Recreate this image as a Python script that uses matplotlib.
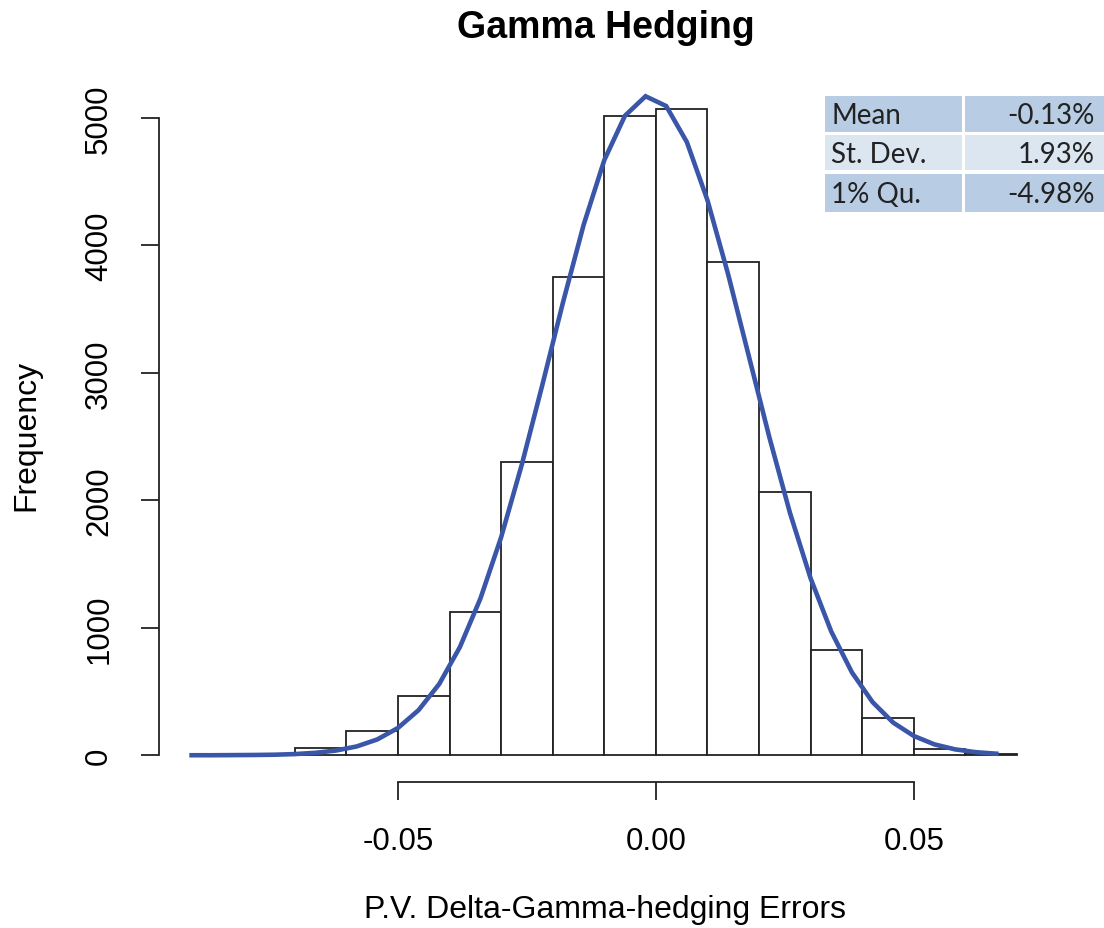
import matplotlib
matplotlib.use("Agg")
import matplotlib.pyplot as plt
from matplotlib.patches import Rectangle

# ---- data ----
bin_edges = [-0.09, -0.08, -0.07, -0.06, -0.05, -0.04, -0.03, -0.02, -0.01,
             0.00, 0.01, 0.02, 0.03, 0.04, 0.05, 0.06, 0.07]
counts = [1, 3, 55, 190, 465, 1120, 2297, 3750, 5013, 5071, 3867, 2062, 827, 290, 47, 8]

curve_x = [-0.090, -0.086, -0.082, -0.078, -0.074, -0.070, -0.066, -0.062, -0.058, -0.054,
           -0.050, -0.046, -0.042, -0.038, -0.034, -0.030, -0.026, -0.022, -0.018, -0.014,
           -0.010, -0.006, -0.002, 0.002, 0.006, 0.010, 0.014, 0.018, 0.022, 0.026,
           0.030, 0.034, 0.038, 0.042, 0.046, 0.050, 0.054, 0.058, 0.062, 0.066]
curve_y = [0, 0, 1, 2, 4, 9, 19, 37, 69, 124,
           214, 354, 559, 848, 1231, 1710, 2279, 2907, 3554, 4162,
           4669, 5017, 5170, 5093, 4811, 4354, 3774, 3134, 2494, 1900,
           1387, 970, 650, 417, 256, 151, 85, 46, 24, 12]

xtick_vals = [-0.05, 0.00, 0.05]
xtick_labels = ["-0.05", "0.00", "0.05"]
ytick_vals = [0, 1000, 2000, 3000, 4000, 5000]

table_labels = ["Mean", "St. Dev.", "1% Qu."]
table_values = ["-0.13%", "1.93%", "-4.98%"]

title = "Gamma Hedging"
xlabel = "P.V. Delta-Gamma-hedging Errors"
ylabel = "Frequency"

# ---- figure ----
W, H = 1104, 929
fig = plt.figure(figsize=(W / 100, H / 100), dpi=100)
plt.rcParams['font.family'] = ['Liberation Sans', 'DejaVu Sans']

left, right, top, bottom = 158.6, 1050, 84, 783
ax = fig.add_axes([left / W, 1 - bottom / H, (right - left) / W, (bottom - top) / H])

widths = [bin_edges[i + 1] - bin_edges[i] for i in range(len(counts))]
ax.bar(bin_edges[:-1], counts, width=widths, align='edge', facecolor='white',
       edgecolor='#222222', linewidth=1.3, zorder=2)
ax.plot(curve_x, curve_y, color='#3A56A8', linewidth=3.3, zorder=3, solid_joinstyle='miter')

ax.set_xlim(-0.0964, 0.0764)
ax.set_ylim(-210, 5274)

for s in ['top', 'right']:
    ax.spines[s].set_visible(False)
ax.spines['left'].set_bounds(0, 5000)
ax.spines['bottom'].set_bounds(-0.05, 0.05)
for s in ['left', 'bottom']:
    ax.spines[s].set_linewidth(1.3)
    ax.spines[s].set_color('#222222')

ax.set_xticks(xtick_vals)
ax.set_xticklabels(xtick_labels)
ax.set_yticks(ytick_vals)
ax.set_yticklabels([str(v) for v in ytick_vals], rotation=90, va='center')
ax.tick_params(axis='both', length=13, width=1.3, color='#222222', labelsize=22.5, pad=19)

fig.text(606 / W, 1 - 28 / H, title, ha='center', va='center', fontsize=27, fontweight='bold')
fig.text(605 / W, 1 - 910 / H, xlabel, ha='center', va='center', fontsize=23)
fig.text(26 / W, 1 - 435 / H, ylabel, ha='center', va='center', fontsize=23, rotation=90)

# ---- stats table ----
row_tops = [97, 135.5, 174.5]
row_bots = [132.5, 171, 212.5]
row_colors = ['#B8CCE4', '#DCE6F1', '#B8CCE4']
col1 = (825, 962)
col2 = (965, 1104)
for i in range(3):
    for (x0, x1) in (col1, col2):
        r = Rectangle((x0 / W, 1 - row_bots[i] / H), (x1 - x0) / W, (row_bots[i] - row_tops[i]) / H,
                      transform=fig.transFigure, facecolor=row_colors[i], edgecolor='none')
        fig.add_artist(r)
    yc = 1 - ((row_tops[i] + row_bots[i]) / 2 + 1.5) / H
    fig.text(831 / W, yc, table_labels[i], ha='left', va='center', fontsize=20,
             family=['Lato', 'DejaVu Sans'], color='#222222')
    fig.text(1095 / W, yc, table_values[i], ha='right', va='center', fontsize=20,
             family=['Lato', 'DejaVu Sans'], color='#222222')

fig.savefig('out.png', dpi=100)
